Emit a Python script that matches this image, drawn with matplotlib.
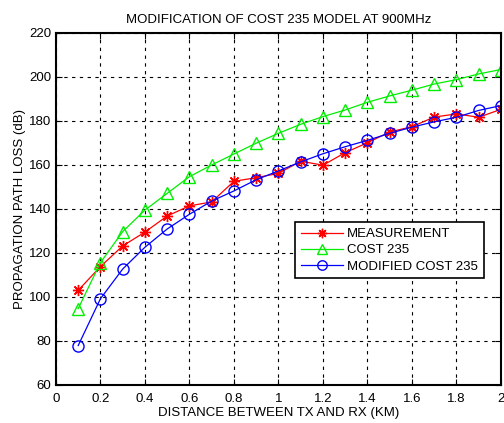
import matplotlib
matplotlib.use("Agg")
import matplotlib.pyplot as plt

plt.rcParams['font.family'] = ['Liberation Sans', 'DejaVu Sans']

# Distance (km) and path loss (dB) for each model
distance = [0.1, 0.2, 0.3, 0.4, 0.5, 0.6, 0.7, 0.8, 0.9, 1.0,
            1.1, 1.2, 1.3, 1.4, 1.5, 1.6, 1.7, 1.8, 1.9, 2.0]
measurement = [103, 113.8, 123.2, 129.5, 136.8, 141.4, 143.2, 152.6, 154.2, 156.2,
               161.7, 159.9, 165.6, 170.1, 175.0, 177.4, 181.8, 183.2, 181.7, 185.3]
cost235 = [94.7, 115.6, 129.7, 139.5, 147.1, 154.7, 160.0, 165.0, 169.9, 174.4,
           178.5, 182.0, 185.0, 188.5, 191.4, 194.0, 196.8, 198.8, 201.4, 203.4]
modified = [77.9, 99.2, 112.7, 122.6, 130.9, 137.6, 143.6, 148.2, 153.3, 157.3,
            161.4, 165.1, 168.3, 171.2, 174.4, 177.2, 179.6, 181.7, 184.8, 187.0]

fs = 9.5

fig = plt.figure(figsize=(5.04, 4.23), dpi=100)
ax = fig.add_axes([0.111, 0.09, 0.883, 0.832])

# asterisk marker: 8 arms like a plus laid over an x
ax.plot(distance, measurement, color='#ff0000', marker=(8, 2, 0), markersize=8,
        markeredgewidth=1.0, linewidth=0.9, label='MEASUREMENT')
ax.plot(distance, cost235, color='#00ee00', marker='^', markersize=8,
        markerfacecolor='none', linewidth=0.9, label='COST 235')
ax.plot(distance, modified, color='#0000ff', marker='o', markersize=8,
        markerfacecolor='none', linewidth=0.9, label='MODIFIED COST 235')

ax.set_xlim(0, 2)
ax.set_ylim(60, 220)
ax.set_xticks([0, 0.2, 0.4, 0.6, 0.8, 1, 1.2, 1.4, 1.6, 1.8, 2])
ax.set_xticklabels(['0', '0.2', '0.4', '0.6', '0.8', '1', '1.2', '1.4', '1.6', '1.8', '2'])
ax.set_yticks(range(60, 221, 20))

ax.grid(True, color='black', linestyle=(0, (3, 4)), linewidth=0.8)
ax.tick_params(direction='in', top=True, right=True, length=4, labelsize=fs)
ax.tick_params(axis='x', pad=6)
for s in ax.spines.values():
    s.set_linewidth(1.5)

ax.set_title('MODIFICATION OF COST 235 MODEL AT 900MHz', fontsize=fs, pad=7)
ax.set_xlabel('DISTANCE BETWEEN TX AND RX (KM)', fontsize=fs, labelpad=1)
ax.set_ylabel('PROPAGATION PATH LOSS (dB)', fontsize=fs, labelpad=2)

leg = ax.legend(loc='upper right', bbox_to_anchor=(0.962, 0.463), borderaxespad=0,
                fontsize=fs, fancybox=False, framealpha=1, edgecolor='black',
                handlelength=3.2, handletextpad=0.3, borderpad=0.45,
                labelspacing=0.3, markerscale=0.85)
leg.get_frame().set_linewidth(1.2)

fig.savefig('out.png', dpi=100)
